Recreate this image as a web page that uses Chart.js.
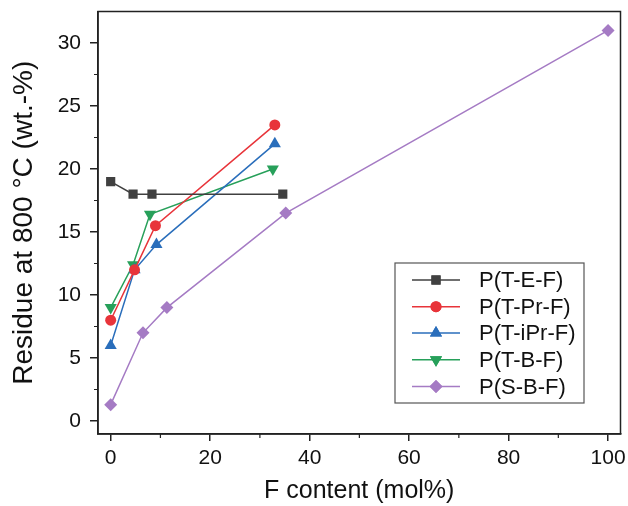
<!DOCTYPE html>
<html>
<head>
<meta charset="utf-8">
<script src="https://cdn.jsdelivr.net/npm/chart.js@4"></script>
<style>
html,body{margin:0;padding:0;background:#fff;}
#wrap{width:628px;height:506px;position:relative;}
</style>
</head>
<body>
<div id="wrap"><canvas id="c" width="628" height="506"></canvas></div>
<script>
const seriesNames = ['P(T-E-F)', 'P(T-Pr-F)', 'P(T-iPr-F)', 'P(T-B-F)', 'P(S-B-F)'];
const xTEF = [0, 4.5, 8.3, 34.6];
const yTEF = [19, 18, 18, 18];
const xTPrF = [0, 4.8, 9, 33];
const yTPrF = [8, 12, 15.5, 23.5];
const xTiPrF = [0, 4.8, 9.2, 33];
const yTiPrF = [6, 12, 14, 22];
const xTBF = [0, 4.5, 7.9, 32.6];
const yTBF = [9, 12.4, 16.4, 20];
const xSBF = [0, 6.5, 11.3, 35.2, 100];
const ySBF = [1.3, 7, 9, 16.5, 31];
const xTickLabels = [0, 20, 40, 60, 80, 100];
const yTickLabels = [0, 5, 10, 15, 20, 25, 30];

const colors = ['#404040', '#e8343a', '#2a6ebb', '#27a05a', '#a57bc4'];
const shapes = ['rect', 'circle', 'triangle', 'triangle', 'rectRot'];
const rotations = [0, 0, 0, 180, 0];
const radii = [6.5, 5.5, 7, 7, 6.5];

function pts(xs, ys) { return xs.map((x, i) => ({x: x, y: ys[i]})); }
const allX = [xTEF, xTPrF, xTiPrF, xTBF, xSBF];
const allY = [yTEF, yTPrF, yTiPrF, yTBF, ySBF];

const datasets = seriesNames.map((n, i) => ({
  label: n,
  data: pts(allX[i], allY[i]),
  borderColor: colors[i],
  backgroundColor: colors[i],
  borderWidth: 1.5,
  pointStyle: shapes[i],
  pointRotation: rotations[i],
  pointRadius: radii[i],
  pointBorderWidth: 0,
  pointHoverRadius: radii[i],
  showLine: true,
  tension: 0
}));

const FONT = '"Liberation Sans", Arial, sans-serif';
const axisColor = '#222';

const framePlugin = {
  id: 'frame',
  afterDraw(chart) {
    const {ctx, chartArea: a, scales} = chart;
    ctx.save();
    ctx.strokeStyle = axisColor;
    ctx.lineWidth = 1.5;
    ctx.strokeRect(a.left, a.top, a.right - a.left, a.bottom - a.top);
    // minor ticks
    ctx.lineWidth = 1.2;
    ctx.beginPath();
    for (let v = 10; v < 100; v += 20) {
      const px = scales.x.getPixelForValue(v);
      ctx.moveTo(px, a.bottom); ctx.lineTo(px, a.bottom + 4);
    }
    for (let v = 2.5; v < 32; v += 5) {
      const py = scales.y.getPixelForValue(v);
      ctx.moveTo(a.left, py); ctx.lineTo(a.left - 4, py);
    }
    ctx.stroke();
    // legend
    const bx = 395, by = 263, bw = 189, bh = 140;
    ctx.fillStyle = '#fff';
    ctx.fillRect(bx, by, bw, bh);
    ctx.strokeStyle = '#555';
    ctx.lineWidth = 1.2;
    ctx.strokeRect(bx, by, bw, bh);
    const rows = [280, 306.7, 333, 359.7, 386.5];
    seriesNames.forEach((n, i) => {
      const y = rows[i];
      ctx.strokeStyle = colors[i];
      ctx.lineWidth = 1.5;
      ctx.beginPath();
      ctx.moveTo(412, y); ctx.lineTo(460, y);
      ctx.stroke();
      ctx.fillStyle = colors[i];
      Chart.helpers.drawPoint(ctx, {pointStyle: shapes[i], rotation: rotations[i], radius: radii[i], borderWidth: 0}, 436, y);
      ctx.fill();
      ctx.fillStyle = '#111';
      ctx.font = '22px ' + FONT;
      ctx.textBaseline = 'middle';
      ctx.textAlign = 'left';
      ctx.fillText(n, 479, y + 1);
    });
    ctx.restore();
  }
};

new Chart(document.getElementById('c'), {
  type: 'scatter',
  data: {datasets: datasets},
  options: {
    responsive: false,
    animation: false,
    devicePixelRatio: 1,
    layout: {padding: {top: 11.5, right: 7.5, left: 0, bottom: 0}},
    plugins: {legend: {display: false}, tooltip: {enabled: false}},
    scales: {
      x: {
        type: 'linear',
        min: -2.55,
        max: 102.5,
        afterBuildTicks(scale) { scale.ticks = xTickLabels.map(v => ({value: v})); },
        afterFit(scale) { scale.height = 72; scale.paddingLeft = 0; scale.paddingRight = 0; },
        ticks: {color: '#111', font: {family: FONT, size: 21}, padding: 5, includeBounds: false, maxRotation: 0},
        grid: {drawOnChartArea: false, drawTicks: true, tickLength: 7, color: axisColor, lineWidth: 1.5},
        border: {display: true, color: axisColor, width: 1.5},
        title: {display: true, text: 'F content (mol%)', color: '#111', font: {family: FONT, size: 25}, padding: {top: 2, bottom: 0}}
      },
      y: {
        type: 'linear',
        min: -1.03,
        max: 32.5,
        afterBuildTicks(scale) { scale.ticks = yTickLabels.map(v => ({value: v})); },
        afterFit(scale) { scale.width = 98; scale.paddingTop = 0; scale.paddingBottom = 0; },
        ticks: {color: '#111', font: {family: FONT, size: 21}, padding: 9, includeBounds: false},
        grid: {drawOnChartArea: false, drawTicks: true, tickLength: 8, color: axisColor, lineWidth: 1.5},
        border: {display: true, color: axisColor, width: 1.5},
        title: {display: true, text: 'Residue at 800 °C (wt.-%)', color: '#111', font: {family: FONT, size: 28}, padding: {top: 7, bottom: 0}}
      }
    }
  },
  plugins: [framePlugin]
});
</script>
</body>
</html>
